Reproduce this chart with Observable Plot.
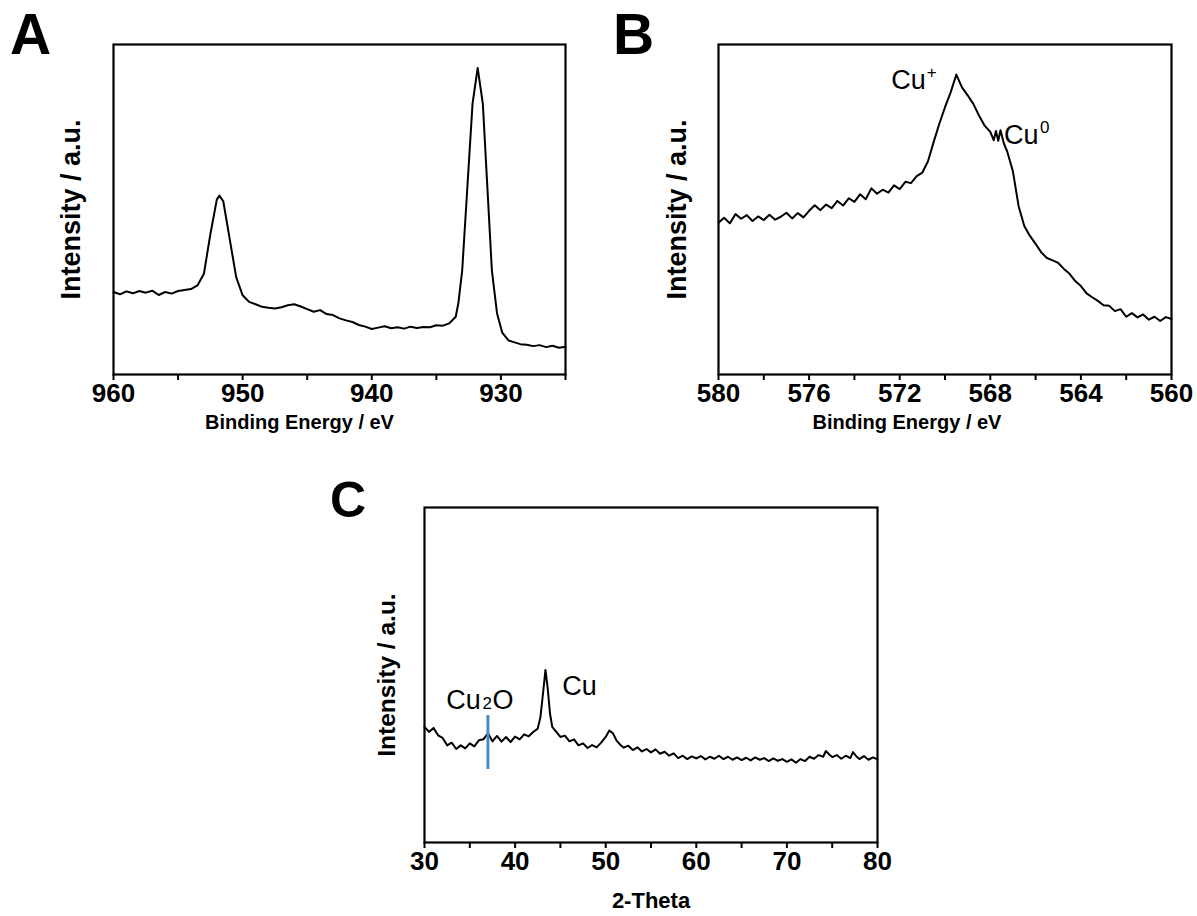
<!DOCTYPE html>
<html>
<head>
<meta charset="utf-8">
<script src="https://cdn.jsdelivr.net/npm/d3@7"></script>
<script src="https://cdn.jsdelivr.net/npm/@observablehq/plot@0.6"></script>
<style>
  html, body { margin: 0; padding: 0; background: #fff; }
  #wrap { position: relative; width: 1197px; height: 916px; font-family: "Liberation Sans", Arial, sans-serif; }
  .panel { position: absolute; z-index: 1; }
  .letter { position: absolute; z-index: 2; font-weight: bold; line-height: 1; color: #000; }
</style>
</head>
<body>
<div id="wrap">
  <div class="panel" id="pa" style="left:0px;top:0px;"></div>
  <div class="panel" id="pb" style="left:600px;top:0px;"></div>
  <div class="panel" id="pc" style="left:300px;top:450px;"></div>
  <div class="letter" style="left:10px;top:6px;font-size:57px;">A</div>
  <div class="letter" style="left:613px;top:6px;font-size:57px;">B</div>
  <div class="letter" style="left:330px;top:475px;font-size:50px;">C</div>
</div>
<script>
// ---------- Panel A : Cu 2p XPS ----------
const aEnergy = [960,959.5,959,958.5,958,957.5,957,956.5,956,955.5,955,954.5,954,953.5,953,952.5,952,951.8,951.5,951,950.5,950,949.5,949,948.5,948,947.5,947,946.5,946,945.5,945,944.5,944,943.5,943,942.5,942,941.5,941,940.5,940,939.5,939,938.5,938,937.5,937,936.5,936,935.5,935,934.5,934,933.5,933.3,933,932.6,932.2,931.8,931.4,931.05,930.7,930.3,929.9,929.4,929,928.5,928,927.5,927,926.5,926,925.5,925];
const aIntensity = [25.0,24.3,25.2,24.6,25.3,24.8,25.4,24.1,25.0,24.5,25.3,25.6,25.9,27.0,30.5,42.5,53.0,54.2,52.5,41.0,29.5,24.0,22.0,21.3,20.5,20.2,20.0,20.4,21.0,21.3,20.6,19.8,19.0,19.5,18.3,18.0,17.0,16.4,15.9,15.0,14.5,13.8,14.2,14.6,14.0,14.3,13.9,14.5,14.1,14.4,14.3,14.9,14.8,15.5,17.5,21.5,31.5,56.7,82.0,92.9,82.0,56.7,31.5,18.5,12.7,10.3,9.8,9.2,9.0,8.6,8.9,8.3,8.7,8.1,8.4];
const aTicks = [960,955,950,945,940,935,930,925];

// ---------- Panel B : Cu LMM Auger ----------
const bEnergy = [580,579.75,579.5,579.25,579,578.75,578.5,578.25,578,577.75,577.5,577.25,577,576.75,576.5,576.25,576,575.75,575.5,575.25,575,574.75,574.5,574.25,574,573.75,573.5,573.25,573,572.75,572.5,572.25,572,571.75,571.5,571.25,571,570.75,570.5,570.25,570,569.75,569.5,569.25,569,568.75,568.5,568.25,568,567.85,567.75,567.65,567.55,567.4,567.25,567,566.75,566.5,566.25,566,565.75,565.5,565.25,565,564.75,564.5,564.25,564,563.75,563.5,563.25,563,562.75,562.5,562.25,562,561.75,561.5,561.25,561,560.75,560.5,560.25,560];
const bIntensity = [46.0,47.5,45.8,48.6,47.2,48.3,46.5,47.9,46.8,48.4,46.9,47.8,49.0,47.3,48.9,47.6,49.6,51.3,49.8,51.5,50.4,52.6,51.2,53.4,52.3,54.6,53.1,56.4,54.8,56.0,55.1,57.3,56.2,58.4,58.0,60.1,61.2,64.6,70.5,76.0,81.0,85.5,90.9,87.0,84.6,82.0,78.5,75.4,73.5,71.0,73.8,70.8,74.0,70.0,67.5,61.5,51.0,45.0,42.0,39.6,37.0,35.3,34.6,33.8,32.0,30.5,28.3,26.8,24.6,23.4,22.3,21.0,20.8,19.2,19.8,17.5,18.6,17.3,18.2,16.6,17.5,16.2,17.4,16.8];
const bTicks = [580,578,576,574,572,570,568,566,564,562,560];
const bLabelBase = ["Cu", "Cu"];
const bLabelSup = ["+", "0"];
const bLabelX = [570.85, 567.4];
const bLabelY = [89.0, 72.5];

// ---------- Panel C : XRD ----------
const cTheta = [30,30.5,31,31.5,32,32.5,33,33.5,34,34.5,35,35.5,36,36.5,37,37.5,38,38.5,39,39.5,40,40.5,41,41.5,42,42.5,42.8,43.1,43.35,43.6,43.85,44.1,44.5,45,45.5,46,46.5,47,47.5,48,48.5,49,49.5,50,50.4,50.8,51.2,51.6,52,52.5,53,53.5,54,54.5,55,55.5,56,56.5,57,57.5,58,58.5,59,59.5,60,60.5,61,61.5,62,62.5,63,63.5,64,64.5,65,65.5,66,66.5,67,67.5,68,68.5,69,69.5,70,70.5,71,71.5,72,72.5,73,73.5,74,74.3,74.7,75,75.5,76,76.5,77,77.3,77.7,78,78.5,79,79.5,80];
const cIntensity = [34.5,33.0,34.2,32.0,31.2,29.0,29.8,27.9,29.0,28.1,29.6,28.7,30.5,30.8,32.6,30.2,31.8,30.1,31.5,30.0,31.6,30.8,32.3,31.7,33.0,34.0,37.5,45.0,51.5,46.0,38.5,34.5,33.2,31.5,31.9,30.2,30.8,29.0,29.6,28.2,29.1,28.4,29.8,31.5,33.4,32.6,30.4,29.2,28.3,28.9,27.6,28.4,27.2,27.9,26.9,27.8,26.5,27.1,25.9,26.6,25.2,25.9,24.9,25.7,25.1,25.8,24.8,25.6,25.0,25.9,24.9,25.6,24.7,25.4,24.6,25.3,24.5,25.4,24.7,25.2,24.3,25.1,24.4,24.9,24.1,24.8,23.8,24.9,24.3,25.6,25.0,26.1,25.6,27.3,26.2,25.5,26.1,25.0,25.9,25.2,27.0,25.6,24.9,25.8,24.7,25.4,24.8];
const cTicks = [30,35,40,45,50,55,60,65,70,75,80];
const cMarkerTheta = [37];
const cMarkerY1 = [21.8];
const cMarkerY2 = [37.9];
const cLabels = ["Cu", "2", "O", "Cu"];
const cLabelX = [32.4, 36.4, 37.5, 45.2];
const cLabelY = [42.4, 41.6, 42.4, 46.7];
const cLabelSize = [27, 17, 27, 27];

const FONT = "Liberation Sans, Arial, Helvetica, sans-serif";

function zip(xs, ys) { return xs.map((x, i) => ({x, y: ys[i]})); }

function panel(opts) {
  const {width, height, ml, mr, mt, mb, domain, ticks, major, data, xlabel, xlabelSize, xlabelDy, xlabelDx, ylabelSize, ylabelDx, tickSize, extra} = opts;
  return Plot.plot({
    width, height,
    marginLeft: ml, marginRight: mr, marginTop: mt, marginBottom: mb,
    style: {fontFamily: FONT, background: "white", color: "black", overflow: "visible"},
    x: {domain, axis: null},
    y: {domain: [0, 100], axis: null},
    marks: [
      Plot.line(data, {x: "x", y: "y", stroke: "black", strokeWidth: 2}),
      ...(extra || []),
      Plot.frame({stroke: "black", strokeWidth: 2.2}),
      Plot.axisX({
        ticks, tickSize: 6, tickPadding: 3, strokeWidth: 2,
        tickFormat: d => major(d) ? String(d) : "",
        fontSize: tickSize, fontWeight: "bold", label: null
      }),
      Plot.text([xlabel], {frameAnchor: "bottom", dx: xlabelDx, dy: xlabelDy, textAnchor: "middle", fontSize: xlabelSize, fontWeight: "bold", lineAnchor: "middle", fill: "black"}),
      Plot.text(["Intensity / a.u."], {frameAnchor: "left", dx: ylabelDx, rotate: -90, textAnchor: "middle", fontSize: ylabelSize, fontWeight: "bold", lineAnchor: "middle", fill: "black"})
    ]
  });
}

// Panel A
document.getElementById("pa").append(panel({
  width: 600, height: 450, ml: 113, mr: 35, mt: 44, mb: 76,
  domain: [960, 925], ticks: aTicks, major: d => d % 10 === 0,
  data: zip(aEnergy, aIntensity),
  xlabel: "Binding Energy / eV", xlabelSize: 20, xlabelDy: 48, xlabelDx: -40,
  ylabelSize: 27, ylabelDx: -42, tickSize: 26
}));

// Panel B
const bBase = bLabelBase.map((t, i) => ({t, x: bLabelX[i], y: bLabelY[i]}));
const bSup = bLabelSup.map((t, i) => ({t, x: bLabelX[i], y: bLabelY[i]}));
document.getElementById("pb").append(panel({
  width: 597, height: 450, ml: 118, mr: 26, mt: 44, mb: 76,
  domain: [580, 560], ticks: bTicks, major: d => d % 4 === 0,
  data: zip(bEnergy, bIntensity),
  xlabel: "Binding Energy / eV", xlabelSize: 20, xlabelDy: 48, xlabelDx: -38,
  ylabelSize: 27, ylabelDx: -41, tickSize: 26,
  extra: [
    Plot.text(bBase.slice(0, 1), {x: "x", y: "y", text: "t", textAnchor: "end", lineAnchor: "middle", fontSize: 27, fill: "black"}),
    Plot.text(bSup.slice(0, 1), {x: "x", y: "y", text: "t", textAnchor: "start", lineAnchor: "middle", dx: 1, dy: -8, fontSize: 17, fill: "black"}),
    Plot.text(bBase.slice(1), {x: "x", y: "y", text: "t", textAnchor: "start", lineAnchor: "middle", fontSize: 27, fill: "black"}),
    Plot.text(bSup.slice(1), {x: "x", y: "y", text: "t", textAnchor: "start", lineAnchor: "middle", dx: 36, dy: -8, fontSize: 17, fill: "black"})
  ]
}));

// Panel C
const cText = cLabels.map((t, i) => ({t, x: cLabelX[i], y: cLabelY[i], s: cLabelSize[i]}));
const cMarker = cMarkerTheta.map((x, i) => ({x, y1: cMarkerY1[i], y2: cMarkerY2[i]}));
document.getElementById("pc").append(panel({
  width: 617, height: 466, ml: 124, mr: 40, mt: 57, mb: 74,
  domain: [30, 80], ticks: cTicks, major: d => d % 10 === 0,
  data: zip(cTheta, cIntensity),
  xlabel: "2-Theta", xlabelSize: 22, xlabelDy: 58, xlabelDx: 0,
  ylabelSize: 24.5, ylabelDx: -37, tickSize: 26,
  extra: [
    Plot.ruleX(cMarker, {x: "x", y1: "y1", y2: "y2", stroke: "#4a8cc8", strokeWidth: 3}),
    ...cText.map(d => Plot.text([d], {x: "x", y: "y", text: "t", textAnchor: "start", lineAnchor: "middle", fontSize: d.s, fill: "black"}))
  ]
}));
</script>
</body>
</html>
